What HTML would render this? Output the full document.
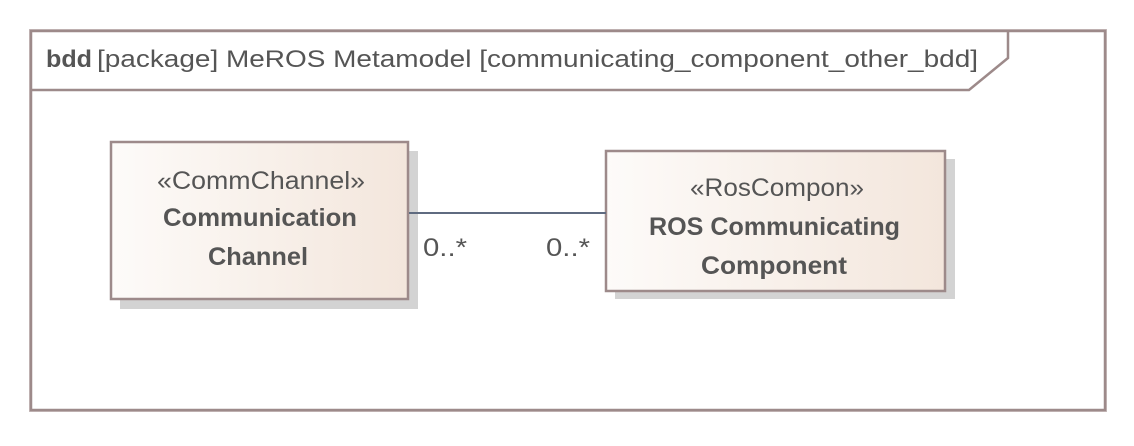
<!DOCTYPE html>
<html><head><meta charset="utf-8"><style>
body{margin:0;width:1134px;height:441px;background:#fff;overflow:hidden;font-family:"Liberation Sans",sans-serif;}
</style></head><body>
<svg width="1134" height="441" xmlns="http://www.w3.org/2000/svg">
<defs>
<linearGradient id="g" x1="0" x2="1" y1="0" y2="0">
<stop offset="0" stop-color="#fdfbf9"/><stop offset="1" stop-color="#f3e6dc"/>
</linearGradient>
</defs>
<rect x="29.5" y="29.5" width="1077" height="382" fill="#fff" stroke="#c8bcbc" stroke-width="1"/>
<rect x="31" y="31" width="1074" height="379" fill="none" stroke="#9d8a8a" stroke-width="2.5"/>
<polyline points="31,90 969,90 1008,58 1008,31" fill="none" stroke="#9d8a8a" stroke-width="2.5"/>
<text x="46" y="67" font-size="24" fill="#555" font-weight="bold" textLength="46" lengthAdjust="spacingAndGlyphs">bdd</text>
<text x="97" y="67" font-size="24" fill="#555" textLength="881" lengthAdjust="spacingAndGlyphs">[package] MeROS Metamodel [communicating_component_other_bdd]</text>
<rect x="120" y="151" width="298" height="158" fill="#d3d3d3"/>
<rect x="111" y="142" width="297" height="157" fill="url(#g)" stroke="#9d8a8a" stroke-width="2.5"/>
<text x="157" y="189" font-size="25" fill="#555" textLength="208" lengthAdjust="spacingAndGlyphs">«CommChannel»</text>
<text x="163" y="226" font-size="25" font-weight="bold" fill="#555" textLength="194" lengthAdjust="spacingAndGlyphs">Communication</text>
<text x="208" y="265" font-size="25" font-weight="bold" fill="#555" textLength="100" lengthAdjust="spacingAndGlyphs">Channel</text>
<rect x="615" y="159" width="340" height="140" fill="#d3d3d3"/>
<rect x="606" y="151" width="339" height="140" fill="url(#g)" stroke="#9d8a8a" stroke-width="2.5"/>
<text x="690" y="196" font-size="25" fill="#555" textLength="174" lengthAdjust="spacingAndGlyphs">«RosCompon»</text>
<text x="649" y="235" font-size="25" font-weight="bold" fill="#555" textLength="251" lengthAdjust="spacingAndGlyphs">ROS Communicating</text>
<text x="701" y="274" font-size="25" font-weight="bold" fill="#555" textLength="146" lengthAdjust="spacingAndGlyphs">Component</text>
<line x1="409" y1="213" x2="606" y2="213" stroke="#5f6b80" stroke-width="2"/>
<text x="423" y="256" font-size="25" fill="#555" textLength="44" lengthAdjust="spacingAndGlyphs">0..*</text>
<text x="546" y="256" font-size="25" fill="#555" textLength="44" lengthAdjust="spacingAndGlyphs">0..*</text>
</svg>
</body></html>
